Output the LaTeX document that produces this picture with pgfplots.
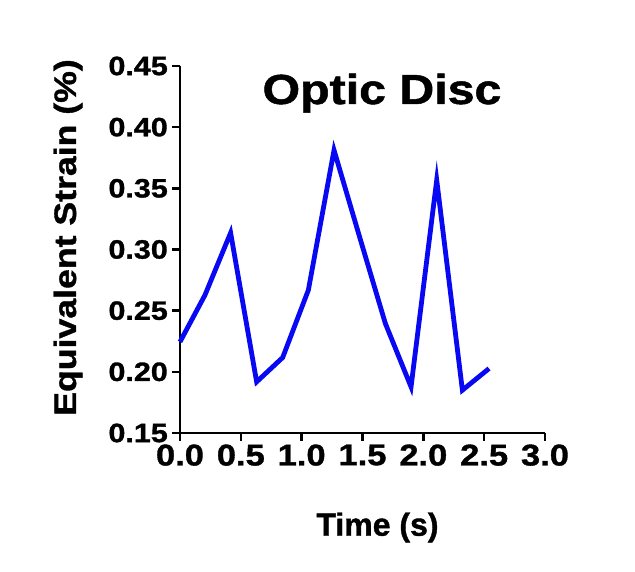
\documentclass[border=0pt]{standalone}
\usepackage{fontspec}
\setmainfont{Liberation Sans}[FakeStretch=1.15, BoldFeatures={FakeBold=1.2}]
\newfontfamily\plainfont{Liberation Sans}[BoldFeatures={FakeBold=1.2}]
\usepackage{pgfplots}
\pgfplotsset{compat=1.18}
\definecolor{lineblue}{RGB}{8,8,242}
\begin{document}
\begin{tikzpicture}
\useasboundingbox (-180pt,-139pt) rectangle (455pt,433pt);
\begin{axis}[
  at={(0pt,0pt)}, anchor=origin,
  scale only axis,
  width=365pt, height=367pt,
  xmin=0, xmax=3, ymin=0.15, ymax=0.45,
  axis lines=left,
  axis line style={-, line width=2.6pt, black},
  xtick={0,0.5,...,3}, ytick={0.15,0.20,...,0.46},
  tick align=outside,
  major tick length=8pt,
  every tick/.style={black, line width=2.4pt},
  /pgf/number format/assume math mode=true,
  xticklabel style={font=\fontsize{30}{34}\selectfont\bfseries, /pgf/number format/.cd, fixed, fixed zerofill, precision=1},
  yticklabel style={font=\fontsize{26.5}{30}\selectfont\bfseries, inner sep=4pt, /pgf/number format/.cd, fixed, fixed zerofill, precision=2},
  clip=false,
]
\addplot[lineblue, line width=4.8pt, mark=none] coordinates {
(0,0.2245) (0.205,0.2627) (0.416,0.3136) (0.630,0.1918) (0.844,0.2117)
(1.055,0.2668) (1.266,0.3812) (1.477,0.310) (1.688,0.2395) (1.899,0.1877)
(2.110,0.3567) (2.321,0.185) (2.540,0.2027)
};
\end{axis}
\node[anchor=base, font=\fontsize{42}{48}\selectfont\bfseries] at (202pt,329pt) {Optic Disc};
\node[anchor=base, rotate=90, font=\fontsize{31}{36}\selectfont\bfseries] at (-104pt,195.5pt) {Equivalent Strain (\%)};
\node[anchor=base, font=\plainfont\fontsize{32}{36}\selectfont\bfseries] at (197.5pt,-102.7pt) {Time (s)};
\end{tikzpicture}
\end{document}
